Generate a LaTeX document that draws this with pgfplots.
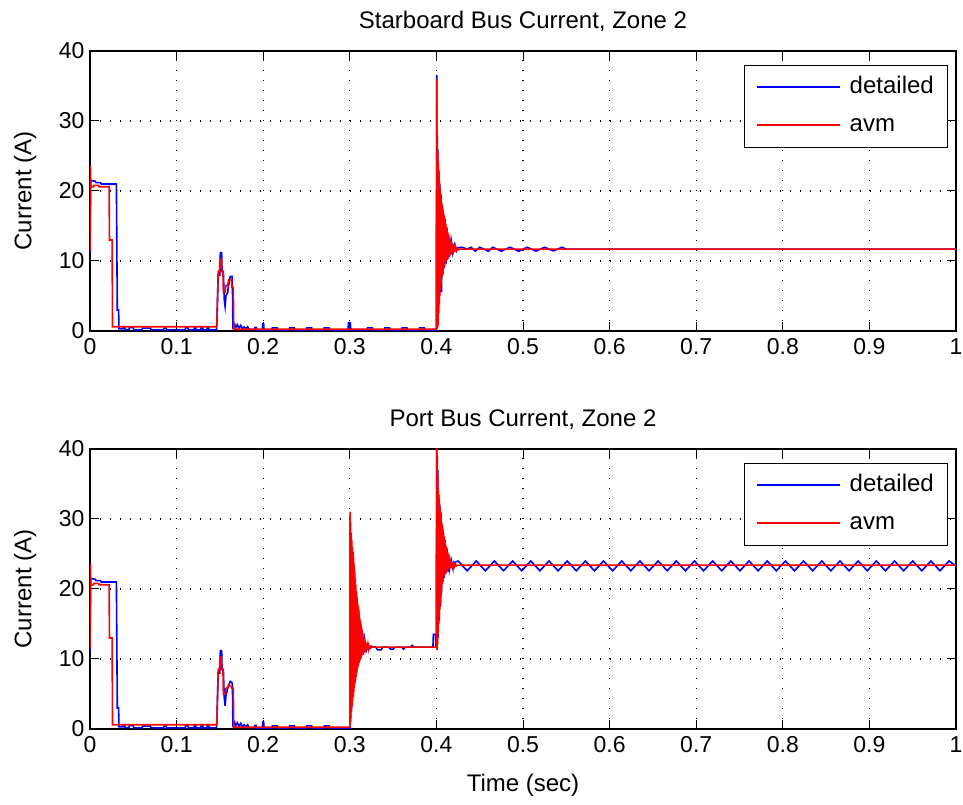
\documentclass[border=0pt]{standalone}
\usepackage{fontspec}
\setmainfont{Liberation Sans}
\usepackage{pgfplots}
\pgfplotsset{compat=1.18}
\definecolor{mblue}{RGB}{0,0,255}
\definecolor{mred}{RGB}{255,0,0}
\pgfplotsset{
  bluelegend/.style={legend image code/.code={\fill[fill=mblue] (0pt,-0.4pt) rectangle (81pt,0.4pt);}},
  redlegend/.style={legend image code/.code={\fill[fill=mred] (0pt,-0.4pt) rectangle (81pt,0.4pt);}},
  myax/.style={
  scale only axis, width=866pt, height=280pt,
  xmin=0, xmax=1, ymin=0, ymax=40,
  xtick={0,0.1,0.2,0.3,0.4,0.5,0.6,0.7,0.8,0.9,1},
  xticklabels={0,0.1,0.2,0.3,0.4,0.5,0.6,0.7,0.8,0.9,1},
  ytick={0,10,20,30,40}, yticklabels={0,10,20,30,40},
  grid=major,
  grid style={black, line width=1.1pt, dash pattern=on 1.1pt off 8.9pt},
  tick align=inside, tick pos=both, major tick length=9pt,
  tick style={black, line width=1pt},
  axis line style={black, line width=1.1pt},
  ticklabel style={font=\fontsize{23}{26}\selectfont},
  xticklabel style={yshift=-4pt},
  yticklabel style={xshift=-2pt},
  title style={font=\fontsize{24}{28}\selectfont, at={(axis description cs:0.5,1.085)}, anchor=center},
  ylabel style={font=\fontsize{24}{28}\selectfont, at={(axis description cs:-0.075,0.5)}, anchor=center, rotate=0},
  xlabel style={font=\fontsize{24}{28}\selectfont, at={(axis description cs:0.5,-0.2)}, anchor=center},
  ylabel={Current (A)},
  legend style={at={(axis description cs:0.9896,0.95)}, anchor=north east,
    fill=white, font=\fontsize{24}{28}\selectfont,
    inner xsep=13pt, inner ysep=11pt, row sep=16pt, column sep=10pt,
    nodes={inner sep=0pt, text height=17pt, text depth=5pt}},
  every legend/.append style={draw=black, line width=1pt},
  legend cell align=left,
  every axis plot/.append style={line width=1.6pt, mark=none},
}}
\begin{document}
\begin{tikzpicture}[x=1pt,y=1pt]
\useasboundingbox (0,0) rectangle (963pt,805pt);
% ---------------- top ----------------
\begin{axis}[myax, at={(90pt,474pt)}, anchor=south west, title={Starboard Bus Current, Zone 2}]
\addplot[color=mblue, draw=mblue, bluelegend] coordinates {
(0,11) (0.0008,21.5) (0.006,21.4) (0.007,21.2) (0.012,21.2) (0.013,21.0) (0.0305,21.0) (0.0315,3) (0.033,3) (0.0335,0.3)
(0.038,0.3) (0.0385,0.6) (0.04,0.6) (0.0405,0.2) (0.045,0.2) (0.0455,0.5) (0.05,0.5) (0.0505,0.15) (0.06,0.15) (0.0605,0.4)
(0.07,0.4) (0.0705,0.15) (0.085,0.15) (0.0855,0.4) (0.088,0.4) (0.0885,0.15) (0.11,0.15) (0.1105,0.5) (0.113,0.5) (0.1135,0.15)
(0.12,0.15) (0.1205,0.6) (0.122,0.6) (0.1225,0.15) (0.128,0.15) (0.1285,0.6) (0.13,0.6) (0.1305,0.15) (0.135,0.15) (0.1355,0.6)
(0.137,0.6) (0.1375,0.15) (0.146,0.15) (0.1465,1) (0.148,8) (0.150,8) (0.1505,11.2) (0.152,11.2) (0.1525,8.5) (0.154,8.5)
(0.155,4.5) (0.156,3.5) (0.157,5) (0.159,5.5) (0.160,6.5) (0.162,7.8) (0.164,7.8) (0.1645,6.5) (0.165,0.6) (0.167,1.0)
(0.168,0.4) (0.17,0.9) (0.172,0.4) (0.174,0.8) (0.176,0.3) (0.178,0.6) (0.18,0.3) (0.182,0.6) (0.184,0.2) (0.19,0.2)
(0.1905,0.5) (0.192,0.5) (0.1925,0.1) (0.199,0.1) (0.1995,1) (0.2005,1) (0.201,0.1) (0.21,0.1) (0.2105,0.45) (0.216,0.45)
(0.2165,0.05) (0.23,0.05) (0.2305,0.45) (0.236,0.45) (0.2365,0.05) (0.25,0.05) (0.2505,0.45) (0.256,0.45) (0.2565,0.05) (0.27,0.05)
(0.2705,0.45) (0.276,0.45) (0.2765,0.05) (0.298,0.1) (0.2985,1.2) (0.3005,1.2) (0.301,0.3) (0.302,0.3) (0.3025,0.1) (0.32,0.1)
(0.3205,0.45) (0.326,0.45) (0.3265,0.05) (0.34,0.05) (0.3405,0.45) (0.346,0.45) (0.3465,0.05) (0.36,0.05) (0.3605,0.45) (0.366,0.45)
(0.3665,0.05) (0.38,0.05) (0.3805,0.45) (0.386,0.45) (0.3865,0.05) (0.3995,0.1)
(0.4,0.1) (0.4004,36.6) (0.4009,1) (0.4015,26) (0.402,3) (0.4027,23) (0.4033,4.5) (0.404,21) (0.4047,5.5) (0.4053,19.5)
(0.406,5.5) (0.4067,18) (0.4073,8) (0.408,17) (0.409,9) (0.41,16) (0.411,9.6) (0.412,14.8) (0.413,10.2) (0.414,13.8)
(0.415,10.6) (0.417,13) (0.419,11.1) (0.421,12.3) (0.423,11.4) (0.425,11.9)
(0.43,11.95) (0.435,11.7) (0.44,11.95) (0.445,11.4) (0.45,11.95) (0.455,11.7) (0.46,11.4) (0.465,11.95) (0.47,11.7) (0.475,11.4)
(0.48,11.7) (0.485,11.95) (0.49,11.7) (0.495,11.4) (0.5,11.7) (0.505,11.95) (0.51,11.7) (0.515,11.4) (0.52,11.7) (0.525,11.95)
(0.53,11.7) (0.535,11.45) (0.54,11.7) (0.545,11.95) (0.55,11.7) (1,11.7)
};
\addlegendentry{detailed}
\addplot[color=mred, draw=mred, redlegend] coordinates {
(0,11.5) (0.0005,23.5) (0.001,20.6) (0.004,20.6) (0.0045,20.8) (0.01,20.8) (0.0105,20.6) (0.022,20.6) (0.0225,13) (0.0255,13)
(0.026,0.6) (0.146,0.6) (0.1465,0.8) (0.148,8.5) (0.1495,8.5) (0.150,10.3) (0.1515,10.3) (0.152,8.5) (0.1535,8.5) (0.154,5.5)
(0.156,5.5) (0.157,6.5) (0.159,6.5) (0.160,7.3) (0.1635,7.3) (0.164,6.2) (0.1655,6.2) (0.166,0.25) (0.4,0.25)
(0.4003,36) (0.4007,0.3) (0.401,28) (0.4013,0.5) (0.4017,25.5) (0.402,0.8) (0.4023,24) (0.4027,2.5) (0.403,22.5) (0.4033,3.8)
(0.4037,21.3) (0.404,5) (0.4043,20.3) (0.4047,6) (0.405,19.6) (0.4053,6.8) (0.4057,19) (0.406,7.4) (0.4063,18.3) (0.4067,7.9)
(0.407,17.8) (0.4073,8.3) (0.4077,17.3) (0.408,8.7) (0.4083,16.9) (0.4087,9.0) (0.409,16.5) (0.4093,9.3) (0.4097,16.1) (0.410,9.6)
(0.4103,15.7) (0.4107,9.8) (0.411,15.3) (0.4113,10.0) (0.4117,14.9) (0.412,10.1) (0.4123,14.6) (0.4127,10.3) (0.413,14.2) (0.4133,10.4)
(0.4137,13.9) (0.414,10.5) (0.4143,13.5) (0.4147,10.6) (0.415,13.3) (0.4155,10.8) (0.416,13.0) (0.4165,10.9) (0.417,12.8) (0.4175,11.0)
(0.418,12.6) (0.4185,11.1) (0.419,12.4) (0.4195,11.2) (0.420,12.3) (0.4205,11.3) (0.421,12.1) (0.4215,11.4) (0.422,12.0) (0.423,11.5)
(0.424,11.85) (0.425,11.6) (0.427,11.7) (1,11.7)
};
\addlegendentry{avm}
\end{axis}
% ---------------- bottom ----------------
\begin{axis}[myax, at={(90pt,76pt)}, anchor=south west, title={Port Bus Current, Zone 2}, xlabel={Time (sec)}]
\addplot[color=mblue, draw=mblue, bluelegend] coordinates {
(0,11) (0.0008,21.5) (0.006,21.4) (0.007,21.2) (0.012,21.2) (0.013,21.0) (0.0305,21.0) (0.0315,3) (0.033,3) (0.0335,0.3)
(0.038,0.3) (0.0385,0.6) (0.04,0.6) (0.0405,0.2) (0.045,0.2) (0.0455,0.5) (0.05,0.5) (0.0505,0.15) (0.06,0.15) (0.0605,0.4)
(0.07,0.4) (0.0705,0.15) (0.085,0.15) (0.0855,0.4) (0.088,0.4) (0.0885,0.15) (0.11,0.15) (0.1105,0.5) (0.113,0.5) (0.1135,0.15)
(0.12,0.15) (0.1205,0.6) (0.122,0.6) (0.1225,0.15) (0.128,0.15) (0.1285,0.6) (0.13,0.6) (0.1305,0.15) (0.135,0.15) (0.1355,0.6)
(0.137,0.6) (0.1375,0.15) (0.146,0.15) (0.1465,1) (0.148,8) (0.150,8) (0.1505,11.2) (0.152,11.2) (0.1525,8.5) (0.154,8.5)
(0.155,4.5) (0.156,3.3) (0.157,4.8) (0.159,5.8) (0.160,6.2) (0.162,6.8) (0.164,6.6) (0.1645,6.0) (0.165,0.6) (0.167,1.0)
(0.168,0.4) (0.17,0.9) (0.172,0.4) (0.174,0.8) (0.176,0.3) (0.178,0.6) (0.18,0.3) (0.182,0.6) (0.184,0.2) (0.19,0.2)
(0.1905,0.5) (0.192,0.5) (0.1925,0.1) (0.199,0.1) (0.1995,1) (0.2005,1) (0.201,0.1) (0.21,0.1) (0.2105,0.45) (0.216,0.45)
(0.2165,0.05) (0.23,0.05) (0.2305,0.45) (0.236,0.45) (0.2365,0.05) (0.25,0.05) (0.2505,0.45) (0.256,0.45) (0.2565,0.05) (0.27,0.05)
(0.2705,0.45) (0.276,0.45) (0.2765,0.05) (0.2995,0.1)
(0.3,0.1) (0.3004,30.5) (0.3009,1) (0.3015,28) (0.3021,3) (0.3028,25.5) (0.3035,4.5) (0.3042,24) (0.305,5.8) (0.306,21)
(0.307,7.4) (0.308,18.5) (0.309,8.8) (0.310,17) (0.311,9.6) (0.312,15.5) (0.313,10.2) (0.314,14.2) (0.315,10.6) (0.317,12.9)
(0.319,11.2) (0.321,12.1) (0.323,11.5) (0.325,11.8) (0.33,11.7) (0.332,11.3) (0.336,11.3) (0.338,11.7) (0.345,11.7) (0.347,11.4)
(0.35,11.4) (0.352,11.7) (0.36,11.7) (0.362,11.4) (0.364,11.7) (0.37,11.7) (0.372,11.95) (0.374,11.7) (0.396,11.7) (0.3965,13.5)
(0.399,13.5) (0.3995,11.7)
(0.4,13.5) (0.4004,41) (0.4009,11.5) (0.4015,37) (0.402,13) (0.4027,33.5) (0.4033,15.5) (0.404,32) (0.4047,17.5) (0.4053,30.8)
(0.406,19.5) (0.4067,29.2) (0.4073,21) (0.408,28) (0.409,21.6) (0.41,27) (0.411,22.2) (0.412,25.9) (0.413,22.5) (0.414,25)
(0.415,22.8) (0.417,24.2) (0.419,23) (0.421,23.8)
(0.425,24.0) (0.4355,22.6) (0.446,24.0) (0.4565,22.6) (0.467,24.0) (0.4775,22.6) (0.488,24.0) (0.4985,22.6) (0.509,24.0) (0.5195,22.6)
(0.53,24.0) (0.5405,22.6) (0.551,24.0) (0.5615,22.6) (0.572,24.0) (0.5825,22.6) (0.593,24.0) (0.6035,22.6) (0.614,24.0) (0.6245,22.6)
(0.635,24.0) (0.6455,22.6) (0.656,24.0) (0.6665,22.6) (0.677,24.0) (0.6875,22.6) (0.698,24.0) (0.7085,22.6) (0.719,24.0) (0.7295,22.6)
(0.74,24.0) (0.7505,22.6) (0.761,24.0) (0.7715,22.6) (0.782,24.0) (0.7925,22.6) (0.803,24.0) (0.8135,22.6) (0.824,24.0) (0.8345,22.6)
(0.845,24.0) (0.8555,22.6) (0.866,24.0) (0.8765,22.6) (0.887,24.0) (0.8975,22.6) (0.908,24.0) (0.9185,22.6) (0.929,24.0) (0.9395,22.6)
(0.95,24.0) (0.9605,22.6) (0.971,24.0) (0.9815,22.6) (0.992,24.0) (1,23.3)
};
\addlegendentry{detailed}
\addplot[color=mred, draw=mred, redlegend] coordinates {
(0,11.5) (0.0005,23.5) (0.001,20.6) (0.004,20.6) (0.0045,20.8) (0.01,20.8) (0.0105,20.6) (0.022,20.6) (0.0225,13) (0.0255,13)
(0.026,0.6) (0.146,0.6) (0.1465,0.8) (0.148,8.5) (0.1495,8.5) (0.150,10.3) (0.1515,10.3) (0.152,8.5) (0.1535,8.5) (0.154,5.0)
(0.156,5.0) (0.157,5.8) (0.159,6.0) (0.160,6.3) (0.1635,6.0) (0.164,5.8) (0.1655,5.8) (0.166,0.25) (0.3,0.25)
(0.3003,31) (0.3007,0.5) (0.301,29.5) (0.3013,1.5) (0.3017,28) (0.302,2.5) (0.3023,27) (0.3027,3.3) (0.303,26) (0.3033,4)
(0.3037,25.3) (0.304,4.6) (0.3043,24.6) (0.3047,5.3) (0.305,23.5) (0.3053,5.9) (0.3057,22.5) (0.306,6.5) (0.3063,21.5) (0.3067,7)
(0.307,20.6) (0.3073,7.5) (0.3077,19.7) (0.308,8) (0.3083,18.9) (0.3087,8.4) (0.309,18.2) (0.3093,8.8) (0.3097,17.6) (0.310,9.1)
(0.3103,17) (0.3107,9.4) (0.311,16.4) (0.3113,9.7) (0.3117,15.8) (0.312,9.9) (0.3123,15.3) (0.3127,10.1) (0.313,14.9) (0.3133,10.3)
(0.3137,14.5) (0.314,10.5) (0.3143,14.1) (0.3147,10.6) (0.315,13.7) (0.3155,10.7) (0.316,13.2) (0.3165,10.9) (0.317,12.8) (0.3175,11.0)
(0.318,12.5) (0.3185,11.1) (0.319,12.3) (0.3195,11.3) (0.320,12.1) (0.3205,11.4) (0.321,12.0) (0.3215,11.5) (0.322,11.9) (0.323,11.6)
(0.324,11.8) (0.325,11.65) (0.327,11.7) (0.4,11.7)
(0.4003,42) (0.4007,11.3) (0.401,39) (0.4013,12) (0.4017,36) (0.402,13.5) (0.4023,34) (0.4027,15) (0.403,33) (0.4033,16)
(0.4037,32.3) (0.404,17) (0.4043,31.6) (0.4047,18) (0.405,31) (0.4053,19) (0.4057,30.2) (0.406,20) (0.4063,29.5) (0.4067,20.7)
(0.407,29) (0.4073,21.2) (0.4077,28.5) (0.408,21.5) (0.4083,28) (0.4087,21.8) (0.409,27.5) (0.4093,22.0) (0.4097,27) (0.410,22.2)
(0.4103,26.6) (0.4107,22.3) (0.411,26.2) (0.4113,22.4) (0.4117,25.9) (0.412,22.5) (0.4123,25.6) (0.4127,22.6) (0.413,25.3) (0.4133,22.7)
(0.4137,25.0) (0.414,22.8) (0.4143,24.8) (0.4147,22.85) (0.415,24.5) (0.4155,22.9) (0.416,24.2) (0.4165,22.95) (0.417,24.0) (0.4175,23.0)
(0.418,23.8) (0.4185,23.05) (0.419,23.7) (0.4195,23.1) (0.420,23.6) (0.421,23.2) (0.422,23.55) (0.423,23.3) (0.425,23.4) (1,23.4)
};
\addlegendentry{avm}
\end{axis}
\end{tikzpicture}
\end{document}
